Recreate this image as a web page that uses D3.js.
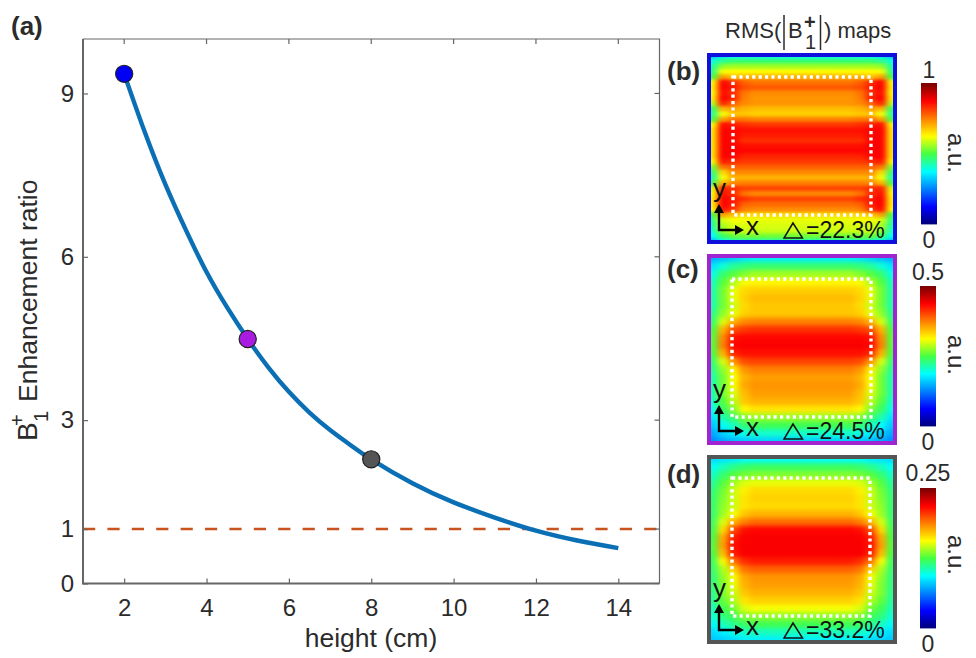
<!DOCTYPE html>
<html><head><meta charset="utf-8">
<script src="https://cdnjs.cloudflare.com/ajax/libs/d3/7.8.5/d3.min.js"></script>
<style>html,body{margin:0;padding:0;background:#fff}svg{display:block}text{font-family:"Liberation Sans",Arial,sans-serif;fill:#2b2b2b}</style>
</head><body><svg id="c" width="976" height="658"></svg>
<script>
const xTicks=[2,4,6,8,10,12,14];
const yTicks=[0,1,3,6,9];
const curveX=[2,2.5,3,3.5,4,4.5,5,5.5,6,6.5,7,7.5,8,9,10,11,12,13,14];
const curveY=[9.36,8.29,7.33,6.49,5.72,5.07,4.49,3.97,3.52,3.14,2.82,2.54,2.28,1.84,1.49,1.21,0.97,0.79,0.65];
const markerX=[2,5,8];
const markerY=[9.36,4.49,2.28];
const markerColors=["#0000f5","#a81be0","#555555"];
const refLevel=1;
const jetStops=[0,0.125,0.375,0.5,0.625,0.875,1];
const jetColors=["#00007a","#0000ff","#00ffff","#44ff44","#ffff00","#ff0000","#7a0000"];
const mapB=[
[.30,.35,.37,.38,.38,.38],[.40,.45,.47,.47,.47,.47],[.44,.55,.56,.56,.56,.56],[.46,.62,.63,.63,.63,.63],
[.50,.72,.68,.70,.70,.70],[.62,.87,.83,.78,.76,.76],[.64,.875,.85,.80,.79,.79],[.62,.86,.83,.76,.74,.74],
[.64,.875,.84,.75,.73,.73],[.58,.84,.78,.74,.73,.73],[.48,.70,.72,.70,.69,.69],[.45,.62,.68,.68,.67,.67],
[.50,.72,.76,.76,.75,.75],[.62,.86,.85,.83,.82,.82],[.65,.875,.87,.86,.86,.86],[.65,.875,.87,.85,.85,.85],
[.65,.875,.87,.83,.83,.83],[.65,.875,.875,.86,.86,.86],[.65,.875,.875,.87,.87,.87],[.65,.875,.87,.84,.84,.84],
[.62,.85,.83,.82,.82,.82],[.54,.76,.78,.78,.78,.78],[.47,.66,.74,.74,.74,.74],[.44,.62,.70,.70,.70,.70],
[.50,.70,.74,.75,.75,.75],[.60,.84,.83,.81,.81,.81],[.62,.86,.83,.76,.74,.74],[.64,.875,.85,.83,.81,.81],
[.64,.875,.85,.78,.77,.77],[.62,.86,.82,.75,.74,.74],[.50,.72,.68,.66,.66,.66],[.46,.60,.62,.62,.61,.61],
[.44,.57,.60,.60,.60,.60],[.42,.55,.59,.59,.59,.59],[.38,.48,.52,.53,.53,.53],[.30,.38,.42,.43,.43,.43]];
const mapC=[
[.29,.31,.33,.35,.36,.36],[.35,.40,.44,.46,.47,.47],[.39,.47,.51,.54,.56,.56],[.42,.51,.57,.62,.63,.63],
[.43,.53,.61,.66,.67,.67],[.43,.53,.61,.67,.69,.69],[.43,.53,.59,.66,.68,.68],[.45,.55,.61,.67,.68,.68],
[.47,.60,.70,.74,.75,.75],[.50,.70,.80,.82,.83,.83],[.51,.74,.86,.87,.87,.87],[.51,.75,.87,.88,.88,.88],
[.50,.70,.84,.86,.86,.86],[.47,.60,.73,.80,.81,.81],[.45,.55,.64,.73,.75,.75],[.43,.53,.62,.70,.72,.72],
[.43,.53,.62,.71,.73,.73],[.43,.53,.60,.69,.72,.72],[.41,.51,.58,.68,.70,.70],[.39,.48,.54,.63,.65,.65],
[.35,.43,.48,.54,.56,.56],[.32,.38,.42,.47,.49,.49],[.29,.33,.36,.39,.41,.41],[.26,.29,.31,.32,.33,.33]];
const mapD=[
[.34,.35,.36,.38,.38,.38],[.38,.42,.45,.47,.48,.48],[.41,.47,.51,.53,.54,.54],[.44,.51,.56,.60,.61,.61],
[.46,.53,.59,.64,.66,.66],[.47,.54,.59,.65,.67,.67],[.47,.55,.59,.65,.66,.66],[.47,.56,.62,.68,.70,.70],
[.48,.60,.70,.75,.77,.77],[.49,.66,.80,.86,.87,.87],[.50,.71,.85,.88,.88,.88],[.51,.72,.86,.88,.88,.88],
[.50,.69,.85,.88,.88,.88],[.48,.62,.76,.83,.85,.85],[.47,.57,.67,.76,.78,.78],[.46,.55,.62,.71,.73,.73],
[.46,.54,.61,.70,.72,.72],[.45,.54,.59,.68,.70,.70],[.44,.52,.57,.65,.67,.67],[.42,.49,.53,.60,.62,.62],
[.40,.46,.49,.54,.55,.55],[.37,.42,.45,.48,.49,.49],[.34,.36,.39,.41,.42,.42],[.32,.33,.34,.36,.36,.36]];
const halfColumnIndex=[0,1,2,3,4,5,5,5,5,5,5,5,5,4,3,2,1,0];
const panelLabels=["(b)","(c)","(d)"];
const deltaLabels=["=22.3%","=24.5%","=33.2%"];
const barMaxLabels=["1","0.5","0.25"];
const barMinLabel="0";
const frameColors=["#1010dc","#a024d0","#555555"];

const svg=d3.select("#c");
const x=d3.scaleLinear().domain([1,15]).range([83,659.5]);
const y=d3.scaleLinear().domain([0,10]).range([583.5,39]);
const axisColor="#666";
const fs=24;
const g=svg.append("g");

g.append("line").attr("x1",x(1)).attr("x2",x(15)).attr("y1",y(refLevel)).attr("y2",y(refLevel))
 .attr("stroke","#c9531f").attr("stroke-width",2.6).attr("stroke-dasharray","12.2 12.2");
g.append("path").attr("d",`M${x(1)},${y(10)}H${x(15)}V${y(0)}`).attr("fill","none").attr("stroke",axisColor).attr("stroke-width",1.2);
g.append("path").attr("d",`M${x(1)},${y(10)}V${y(0)}H${x(15)}`).attr("fill","none").attr("stroke",axisColor).attr("stroke-width",2);
const ax=d3.axisBottom(x).tickValues(xTicks).tickSize(-5).tickPadding(15);
const gx=g.append("g").attr("transform",`translate(0,${y(0)})`).call(ax);
const ay=d3.axisLeft(y).tickValues(yTicks).tickSize(-5).tickPadding(9);
const gy=g.append("g").attr("transform",`translate(${x(1)},0)`).call(ay);
[gx,gy].forEach(a=>{a.select(".domain").remove();a.selectAll("line").attr("stroke",axisColor).attr("stroke-width",1.2);
 a.selectAll("text").attr("font-size",fs).style("font-family",'"Liberation Sans"').attr("fill","#2b2b2b");});
gx.selectAll("g.tick text").attr("dy","0.71em");
g.selectAll(".topTick").data(xTicks).join("line").attr("x1",d=>x(d)).attr("x2",d=>x(d)).attr("y1",y(10)).attr("y2",y(10)+5).attr("stroke",axisColor).attr("stroke-width",1.2);
g.selectAll(".rightTick").data(yTicks).join("line").attr("y1",d=>y(d)).attr("y2",d=>y(d)).attr("x1",x(15)).attr("x2",x(15)-5).attr("stroke",axisColor).attr("stroke-width",1.2);
const line=d3.line().x((d,i)=>x(curveX[i])).y(d=>y(d)).curve(d3.curveNatural);
g.append("path").attr("d",line(curveY)).attr("fill","none").attr("stroke","#0a6fb4").attr("stroke-width",4.4);
g.selectAll(".marker").data(markerY).join("circle").attr("cx",(d,i)=>x(markerX[i])).attr("cy",d=>y(d)).attr("r",8.6)
 .attr("fill",(d,i)=>markerColors[i]).attr("stroke","#222").attr("stroke-width",1.2);
g.append("text").attr("x",371).attr("y",647).attr("text-anchor","middle").attr("font-size",26.5).text("height (cm)");
const yl=g.append("g").attr("transform","translate(37,441) rotate(-90)");
yl.append("text").attr("x",0).attr("y",0).attr("font-size",28).text("B");
yl.append("text").attr("x",15).attr("y",-13).attr("font-size",20).text("+");
yl.append("text").attr("x",19).attr("y",11).attr("font-size",20).text("1");
yl.append("text").attr("x",39).attr("y",0).attr("font-size",26.5).text("Enhancement ratio");
g.append("text").attr("x",11).attr("y",35).attr("font-size",26).attr("font-weight","bold").text("(a)");

const t=g.append("g");
t.append("text").attr("x",725).attr("y",38).attr("font-size",22).text("RMS(");
t.append("path").attr("d","M784,15V50M820.5,15V50").attr("stroke","#2b2b2b").attr("stroke-width",1.5);
t.append("text").attr("x",788).attr("y",38).attr("font-size",22).text("B");
t.append("text").attr("x",804).attr("y",29).attr("font-size",20).attr("font-weight","bold").text("+");
t.append("text").attr("x",805).attr("y",49).attr("font-size",20).text("1");
t.append("text").attr("x",824).attr("y",38).attr("font-size",22).text(") maps");

const color=d3.scaleLinear().domain(jetStops).range(jetColors).interpolate(d3.interpolateRgb).clamp(true);
const defs=svg.append("defs");
defs.append("filter").attr("id","smooth").attr("x","-10%").attr("y","-10%").attr("width","120%").attr("height","120%")
 .attr("color-interpolation-filters","sRGB").append("feGaussianBlur").attr("stdDeviation","3 2");
defs.append("filter").attr("id","smoothB").attr("x","-10%").attr("y","-10%").attr("width","120%").attr("height","120%")
 .attr("color-interpolation-filters","sRGB").append("feGaussianBlur").attr("stdDeviation","3 1.4");
const panels=[
 {m:mapB,f:"smoothB",x0:707,x1:897,y0:53,y1:244,dot:[733,77,871,215],by:[83,224],bx:921,tb:78,bb:248,lab:80,au:133},
 {m:mapC,f:"smooth",x0:707,x1:897,y0:254,y1:445,dot:[732,279,871,417],by:[286,426],bx:920,tb:280,bb:450,lab:278,au:335},
 {m:mapD,f:"smooth",x0:707,x1:897,y0:455,y1:644,dot:[732,478,870,616],by:[488,628],bx:920,tb:481,bb:652,lab:483,au:535}];
panels.forEach((p,k)=>{
 const cid="clip"+k;
 defs.append("clipPath").attr("id",cid).append("rect").attr("x",p.x0).attr("y",p.y0).attr("width",p.x1-p.x0).attr("height",p.y1-p.y0);
 const px=d3.scaleBand().domain(d3.range(halfColumnIndex.length)).range([p.x0,p.x1]);
 const py=d3.scaleBand().domain(d3.range(p.m.length)).range([p.y0,p.y1]);
 const cells=[];
 p.m.forEach((row,r)=>halfColumnIndex.forEach((ci,c)=>cells.push({r,c,v:row[ci]})));
 const last=halfColumnIndex.length-1, lastR=p.m.length-1, pad=14;
 g.append("g").attr("clip-path",`url(#${cid})`).append("g").attr("filter",`url(#${p.f})`)
  .selectAll("rect").data(cells).join("rect")
  .attr("x",d=>px(d.c)-(d.c===0?pad:0)).attr("y",d=>py(d.r)-(d.r===0?pad:0))
  .attr("width",d=>px.bandwidth()+1+((d.c===0||d.c===last)?pad:0))
  .attr("height",d=>py.bandwidth()+1+((d.r===0||d.r===lastR)?pad:0))
  .attr("fill",d=>color(d.v));
 g.append("rect").attr("x",p.x0+2).attr("y",p.y0+2).attr("width",p.x1-p.x0-4).attr("height",p.y1-p.y0-4)
  .attr("fill","none").attr("stroke",frameColors[k]).attr("stroke-width",4);
 g.append("rect").attr("x",p.dot[0]).attr("y",p.dot[1]).attr("width",p.dot[2]-p.dot[0]).attr("height",p.dot[3]-p.dot[1])
  .attr("fill","none").attr("stroke","#fff").attr("stroke-width",3.4).attr("stroke-dasharray","3.2 3.2");
 g.append("text").attr("x",667).attr("y",p.lab).attr("font-size",26).attr("font-weight","bold").text(panelLabels[k]);
 const ox=719, oy=p.y1-14;
 g.append("path").attr("d",`M${ox},${oy-22}V${oy}H${ox+20}`).attr("fill","none").attr("stroke","#000").attr("stroke-width",2.4);
 g.append("path").attr("d",`M${ox},${oy-26}l-5,9h10zM${ox+25},${oy}l-9,-5v10z`).attr("fill","#000");
 g.append("text").attr("x",713).attr("y",oy-33).attr("font-size",26).style("fill","#111").text("y");
 g.append("text").attr("x",746).attr("y",oy+5).attr("font-size",26).style("fill","#111").text("x");
 const by=p.y1-6;
 g.append("path").attr("d",`M793,${by-15}L784,${by}H802.5Z`).attr("fill","none").attr("stroke","#111").attr("stroke-width",1.5);
 g.append("text").attr("x",806).attr("y",by).attr("font-size",23).style("fill","#111").text(deltaLabels[k]);
 const barH=p.by[1]-p.by[0];
 const bs=d3.scaleLinear().domain([0,1]).range([p.by[1],p.by[0]]);
 g.selectAll(null).data(d3.range(0,barH)).join("rect").attr("x",p.bx).attr("width",16)
  .attr("y",d=>bs((d+1)/barH)).attr("height",1.4).attr("fill",d=>color((d+.5)/barH));
 g.append("text").attr("x",p.bx+8).attr("y",p.tb).attr("text-anchor","middle").attr("font-size",23).text(barMaxLabels[k]);
 g.append("text").attr("x",p.bx+8).attr("y",p.bb).attr("text-anchor","middle").attr("font-size",23).text(barMinLabel);
 g.append("text").attr("transform",`translate(948,${p.au}) rotate(90)`).attr("font-size",24).text("a.u.");
});
</script></body></html>
